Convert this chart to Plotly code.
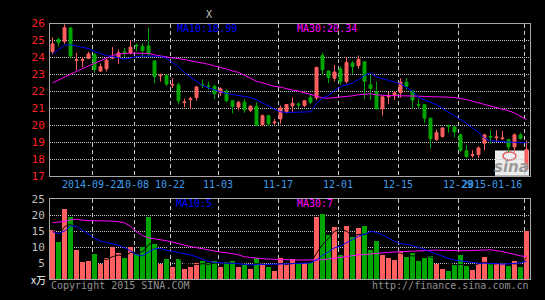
import plotly.graph_objects as go
import pandas as pd

# ---------------- data ----------------
open_ = [24.35,25.06,24.95,25.74,23.82,23.83,23.95,24.18,23.20,23.33,
         23.97,24.03,24.33,24.27,24.72,24.65,24.68,23.80,22.92,22.95,
         22.37,22.39,21.34,21.52,21.64,22.41,22.32,22.30,21.92,22.02,
         21.45,21.08,21.36,20.89,21.13,20.04,20.57,20.15,20.38,20.79,
         21.15,21.25,21.17,21.64,21.62,24.12,23.20,22.77,23.33,22.58,
         23.67,23.52,23.74,22.39,21.98,20.98,21.68,21.77,21.92,22.54,
         22.02,21.23,21.21,20.42,19.16,19.35,19.97,19.91,19.44,18.50,
         18.23,18.29,18.95,19.35,19.27,19.21,19.16,18.73,19.44,17.41]
high = [25.19,25.17,25.95,25.78,24.27,24.03,24.33,24.27,23.65,23.93,
        24.61,24.46,24.57,25.02,24.83,24.83,25.77,23.80,23.05,22.97,
        22.77,22.52,21.58,21.68,22.33,22.71,22.58,22.39,22.24,22.11,
        21.49,21.45,21.55,21.17,21.36,20.64,20.61,20.38,21.17,21.25,
        21.64,21.36,21.49,21.79,23.42,24.29,23.24,23.56,23.46,23.99,
        23.80,24.12,23.80,22.95,22.58,21.72,21.98,22.01,22.77,22.80,
        22.05,21.55,21.23,20.45,19.76,19.87,20.04,19.95,19.53,18.86,
        18.54,18.76,19.48,19.72,19.72,19.67,19.18,19.53,19.57,19.10]
low = [24.18,24.65,24.80,23.93,23.24,23.42,23.89,23.10,23.14,23.18,
       23.89,23.61,24.03,24.18,24.36,24.08,24.08,22.48,22.58,22.33,
       22.20,21.23,21.08,20.98,21.45,22.20,22.11,21.55,21.74,21.36,
       20.70,20.89,20.74,20.79,19.95,19.95,19.95,20.04,20.10,20.70,
       20.79,21.04,21.08,21.26,21.49,22.95,22.48,22.58,22.39,22.48,
       23.05,23.33,21.55,21.49,20.90,20.57,21.26,21.49,21.64,22.11,
       20.98,20.98,20.14,18.63,19.10,19.29,19.57,19.29,18.44,18.07,
       18.10,18.07,18.54,18.91,19.05,19.16,18.44,18.44,19.16,17.32]
close = [24.80,24.89,25.75,24.08,23.86,23.86,24.21,23.29,23.46,23.84,
         24.00,24.27,24.29,24.61,24.68,24.40,24.21,22.88,22.96,22.43,
         22.41,21.45,21.38,21.57,22.26,22.37,22.28,21.86,22.15,21.45,
         21.11,21.36,20.92,21.13,20.00,20.57,20.10,20.19,21.02,21.23,
         21.30,21.21,21.45,21.36,23.42,23.27,22.82,23.14,22.58,23.71,
         23.46,23.89,22.60,22.17,20.98,21.68,21.72,21.92,22.54,22.30,
         21.49,21.19,20.42,19.20,19.57,19.85,19.93,19.61,18.54,18.16,
         18.27,18.67,19.44,19.31,19.31,19.25,18.73,19.44,19.23,18.58]
ma10 = [24.20,24.45,24.72,24.75,24.68,24.60,24.52,24.35,24.23,24.12,
        24.05,23.98,23.90,23.97,24.05,24.08,24.08,24.08,24.07,23.95,
        23.70,23.45,23.10,22.85,22.55,22.35,22.20,22.08,21.97,21.88,
        21.82,21.76,21.70,21.64,21.50,21.34,21.15,20.95,20.80,20.76,
        20.77,20.78,20.78,20.80,21.30,21.62,21.75,22.05,22.28,22.38,
        22.50,22.70,22.95,23.08,22.86,22.75,22.67,22.55,22.45,22.25,
        22.00,21.64,21.50,21.35,21.22,21.00,20.78,20.60,20.35,20.12,
        19.85,19.60,19.25,19.08,19.07,19.06,19.02,19.00,18.98,18.99]
ma30 = [22.50,22.68,22.85,23.00,23.17,23.35,23.50,23.65,23.80,23.97,
        24.12,24.20,24.24,24.25,24.25,24.25,24.24,24.15,24.08,24.02,
        23.97,23.94,23.88,23.80,23.72,23.66,23.60,23.50,23.42,23.32,
        23.20,23.12,22.95,22.75,22.60,22.50,22.40,22.30,22.25,22.15,
        22.08,22.02,21.92,21.80,21.70,21.62,21.60,21.63,21.68,21.70,
        21.74,21.80,21.85,21.86,21.80,21.76,21.75,21.75,21.75,21.75,
        21.75,21.72,21.70,21.70,21.70,21.68,21.66,21.64,21.60,21.52,
        21.42,21.33,21.24,21.15,21.05,20.96,20.86,20.73,20.55,20.34]
volume = [15.5,11.6,22.0,19.5,9.2,5.4,5.6,8.0,4.8,6.8,
          10.1,8.1,6.6,10.0,7.8,10.1,19.3,11.1,4.9,6.2,
          4.0,6.4,3.3,4.0,5.0,5.7,5.0,5.7,4.0,5.3,
          5.7,4.0,4.5,3.3,6.8,4.7,4.0,2.7,6.8,4.7,
          6.4,4.7,4.7,5.3,19.3,20.4,13.7,16.4,7.7,16.7,
          13.1,15.9,16.7,9.2,11.9,7.7,6.6,6.0,8.9,6.9,
          8.3,5.7,6.6,7.2,4.9,3.3,2.7,4.5,7.7,4.2,
          3.0,4.7,7.1,4.7,4.7,4.7,4.2,5.7,4.0,14.9]
vol_ma10 = [14.8,14.2,15.0,16.6,16.5,15.2,13.9,12.8,11.9,11.4,
            11.0,10.6,9.8,8.9,7.6,7.3,8.5,9.5,9.6,9.0,
            8.7,8.4,8.0,7.6,7.0,6.2,5.5,5.3,5.1,5.0,
            5.0,4.8,4.6,4.5,4.6,4.6,4.6,4.6,4.7,4.8,
            4.9,4.9,4.9,5.1,6.0,7.5,8.5,9.8,10.4,11.5,
            12.4,13.4,14.0,14.9,14.6,13.9,12.8,11.8,11.2,10.9,
            10.5,9.9,9.2,8.4,7.8,7.2,6.5,6.0,5.7,5.5,
            5.2,5.0,5.0,5.0,4.9,4.7,4.8,4.9,5.1,5.6]
vol_ma30 = [17.6,17.8,18.0,18.5,18.7,18.4,18.2,18.2,18.2,18.2,
            18.1,17.9,17.6,16.5,14.8,13.6,12.9,12.6,12.4,12.0,
            11.6,11.0,10.6,10.2,9.8,9.4,9.1,8.8,8.5,8.3,
            8.0,7.6,7.0,6.8,6.5,6.4,6.3,6.2,6.2,6.1,
            6.1,6.0,6.0,6.0,6.0,6.1,6.3,6.6,6.9,7.1,
            7.3,7.6,7.7,7.9,8.2,8.4,8.4,8.5,8.6,8.7,
            8.8,9.0,9.1,9.1,9.1,9.0,8.9,8.9,8.9,8.9,
            8.9,9.0,9.1,9.2,9.0,8.6,8.2,7.7,7.3,7.1]
tick_pos = [6.6, 13.6, 19.6, 27.6, 37.6, 47.6, 57.6, 67.6, 78.6]
tick_labels = ["2014-09-22", "10-08", "10-22", "11-03", "11-17",
               "12-01", "12-15", "12-29", "2015-01-16"]
price_ticks = [17, 18, 19, 20, 21, 22, 23, 24, 25, 26]
vol_ticks = [5, 10, 15, 20, 25]

# ---------------- figure ----------------
W, H = 545, 300
RED = "#FF5F5F"
GREEN = "#00A600"
FONT = "DejaVu Sans Mono"
idx = list(range(len(close)))
vol_ma5 = pd.Series(volume).rolling(5, min_periods=1).mean().tolist()
bar_colors = [RED if c >= o else GREEN for o, c in zip(open_, close)]

def px(x):
    return x / W

def py(y):
    return 1 - y / H

fig = go.Figure()
fig.add_trace(go.Candlestick(
    x=idx, open=open_, high=high, low=low, close=close,
    increasing=dict(line=dict(color=RED, width=1), fillcolor=RED),
    decreasing=dict(line=dict(color=GREEN, width=1), fillcolor=GREEN),
    whiskerwidth=0, xaxis="x", yaxis="y", showlegend=False))
fig.add_trace(go.Scatter(x=idx, y=ma30, mode="lines",
                         line=dict(color="#FF00FF", width=1), xaxis="x", yaxis="y"))
fig.add_trace(go.Scatter(x=idx, y=ma10, mode="lines",
                         line=dict(color="#0000FF", width=1), xaxis="x", yaxis="y"))
fig.add_trace(go.Bar(x=idx, y=volume, marker=dict(color=bar_colors, line=dict(width=0)),
                     width=0.83, xaxis="x2", yaxis="y2"))
fig.add_trace(go.Scatter(x=idx, y=vol_ma5, mode="lines",
                         line=dict(color="#000000", width=1), xaxis="x2", yaxis="y2"))
fig.add_trace(go.Scatter(x=idx, y=vol_ma30, mode="lines",
                         line=dict(color="#FF00FF", width=1), xaxis="x2", yaxis="y2"))
fig.add_trace(go.Scatter(x=idx, y=vol_ma10, mode="lines",
                         line=dict(color="#0000FF", width=1), xaxis="x2", yaxis="y2"))

xr = [-0.42, 79.5]
xdom = [px(50), px(529.5)]
frame = "#A8A8A8"
grid = "#C8C8C8"
common_x = dict(range=xr, domain=xdom, showline=True, mirror=True, linecolor=frame,
                linewidth=1, tickvals=tick_pos, showticklabels=False, ticks="",
                showgrid=True, gridcolor=grid, griddash="4px,3px", gridwidth=1,
                zeroline=False, fixedrange=True)
fig.update_layout(
    width=W, height=H, margin=dict(l=0, r=0, t=0, b=0),
    paper_bgcolor="black", plot_bgcolor="black", showlegend=False,
    boxgap=0.3, bargap=0,
    xaxis=dict(anchor="y", rangeslider=dict(visible=False), **common_x),
    xaxis2=dict(anchor="y2", **common_x),
    yaxis=dict(domain=[py(178), py(18.3)], range=[17, 26], tickvals=price_ticks,
               showline=True, mirror=True, linecolor=frame, linewidth=1,
               showgrid=True, gridcolor=grid, griddash="1px,1px", gridwidth=1,
               ticks="outside", ticklen=2, tickcolor="black",
               tickfont=dict(family=FONT, size=11, color="#FF2020"), zeroline=False),
    yaxis2=dict(domain=[py(285.7), py(201.7)], range=[0, 25], tickvals=vol_ticks,
                showline=True, mirror=True, linecolor=frame, linewidth=1,
                showgrid=True, gridcolor=grid, griddash="1px,1px", gridwidth=1,
                ticks="outside", ticklen=2, tickcolor="black",
                tickfont=dict(family=FONT, size=11, color="#BEBEBE"), zeroline=False),
)

ann = []
def text(x, y, s, color, anchor="left", size=10, family=FONT):
    ann.append(dict(x=px(x), y=py(y), xref="paper", yref="paper", text=s,
                    showarrow=False, xanchor=anchor, yanchor="middle",
                    font=dict(family=family, size=size, color=color)))

text(175, 23.5, "MA10:18.99", "#0000FF")
text(295, 23.5, "MA30:20.34", "#FF00FF")
text(174, 206.5, "MA10:5", "#0000FF")
text(295, 206.5, "MA30:7", "#FF00FF")
text(208.5, 9, "X", "#C0C0C0", anchor="center")
text(29, 286, "x万", "#FFFFFF", size=10, family="Noto Sans CJK SC")
text(49, 292.5, "Copyright 2015 SINA.COM", "#909090")
text(531, 292.5, "http://finance.sina.com.cn", "#909090", anchor="right")

for i, (p, lab) in enumerate(zip(tick_pos, tick_labels)):
    ann.append(dict(x=p, y=py(186.5), xref="x", yref="paper", text=lab,
                    showarrow=False, xanchor="right" if i == len(tick_pos) - 1 else "center",
                    yanchor="middle", font=dict(family=FONT, size=10, color="#3D9BE9")))

# sina watermark
ann.append(dict(x=px(511.5), y=py(168), xref="paper", yref="paper", text="<b><i>sina</i></b>",
                showarrow=False, xanchor="center", yanchor="middle",
                font=dict(family="DejaVu Sans", size=15, color="#9A9A9A")))
fig.update_layout(annotations=ann)
fig.add_shape(type="rect", xref="paper", yref="paper", x0=px(495), x1=px(529),
              y0=py(177.5), y1=py(151), fillcolor="#ECECEC", line=dict(width=0),
              layer="between")
fig.add_shape(type="circle", xref="paper", yref="paper", x0=px(503), x1=px(516),
              y0=py(161), y1=py(152.5), fillcolor="rgba(0,0,0,0)",
              line=dict(color="#E06060", width=1.5), layer="between")

fig.write_html("out.html")
